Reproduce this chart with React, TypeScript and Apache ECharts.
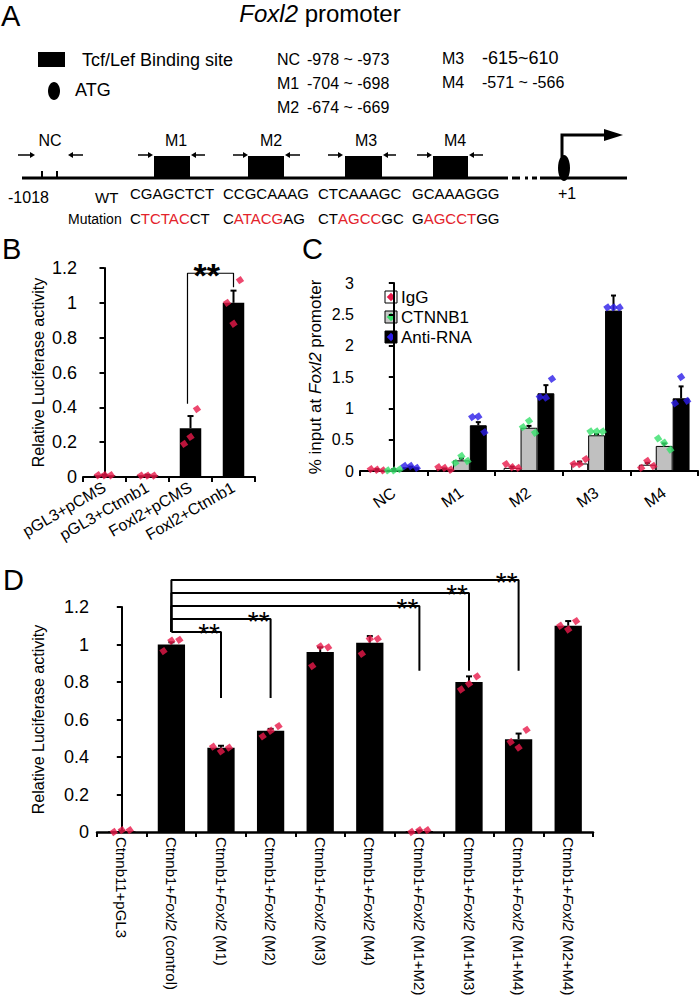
import React, { useEffect, useRef } from 'react';
import * as echarts from 'echarts';

const FONT = '"Liberation Sans", Arial, Helvetica, sans-serif';
const DOT_RED = '#e8194a';
const DOT_GREEN = '#36e06a';
const DOT_BLUE = '#2c1de8';
const SEQ_RED = '#e3232b';

// ---------- Panel A (text content) ----------
const siteNames = ['NC', 'M1', 'M2', 'M3', 'M4'];
const siteRanges = ['-978 ~ -973', '-704 ~ -698', '-674 ~ -669', '-615~610', '-571 ~ -566'];
const wtSeqs = ['CGAGCTCT', 'CCGCAAAG', 'CTCAAAGC', 'GCAAAGGG'];
const mutSeqs = [
  ['C', 'TCTAC', 'CT'],
  ['C', 'ATACG', 'AG'],
  ['CT', 'AGCC', 'GC'],
  ['G', 'AGCCT', 'GG'],
];

// ---------- Panel B ----------
const bCats = ['pGL3+pCMS', 'pGL3+Ctnnb1', 'Foxl2+pCMS', 'Foxl2+Ctnnb1'];
const bMeans = [0.01, 0.01, 0.28, 1.0];
const bErr = [0.003, 0.003, 0.07, 0.07];
const bDots = [
  [0.01, 0.01, 0.01],
  [0.008, 0.008, 0.008],
  [0.19, 0.23, 0.39],
  [1.0, 0.88, 1.13],
];
const bBracket = { from: 1.93, to: 3, fromBottom: 0.42, toBottom: 1.09, height: 1.17, star: 2.38 };

// ---------- Panel C ----------
const cCats = ['NC', 'M1', 'M2', 'M3', 'M4'];
const cSeriesNames = ['IgG', 'CTNNB1', 'Anti-RNA'];
const cIgG = [0.02, 0.03, 0.05, 0.12, 0.1];
const cCtnnb1 = [0.02, 0.17, 0.69, 0.57, 0.4];
const cAnti = [0.06, 0.73, 1.24, 2.56, 1.16];
const cIgGErr = [0.01, 0.01, 0.02, 0.03, 0.03];
const cCtnnb1Err = [0.01, 0.03, 0.03, 0.02, 0.04];
const cAntiErr = [0.01, 0.05, 0.13, 0.24, 0.19];
const cIgGDots = [[0.03, 0.02, 0.01], [0.06, 0.05, 0.02], [0.11, 0.06, 0.05], [0.11, 0.11, 0.19], [0.05, 0.16, 0.08]];
const cCtnnb1Dots = [[0.01, 0.01, 0.03], [0.13, 0.24, 0.16], [0.7, 0.8, 0.61], [0.63, 0.63, 0.63], [0.52, 0.45, 0.34]];
const cAntiDots = [[0.08, 0.08, 0.05], [0.86, 0.87, 0.62], [1.18, 1.17, 1.47], [2.61, 2.61, 2.61], [1.08, 1.5, 1.12]];

// ---------- Panel D ----------
const dCats = [
  'Ctnnb11+pGL3',
  'Ctnnb1+Foxl2 (control)',
  'Ctnnb1+Foxl2 (M1)',
  'Ctnnb1+Foxl2 (M2)',
  'Ctnnb1+Foxl2 (M3)',
  'Ctnnb1+Foxl2 (M4)',
  'Ctnnb1+Foxl2 (M1+M2)',
  'Ctnnb1+Foxl2 (M1+M3)',
  'Ctnnb1+Foxl2 (M1+M4)',
  'Ctnnb1+Foxl2 (M2+M4)',
];
const dMeans = [0.004, 1.0, 0.45, 0.54, 0.96, 1.01, 0.005, 0.8, 0.495, 1.1];
const dErr = [0.003, 0.012, 0.01, 0.01, 0.025, 0.035, 0.003, 0.03, 0.03, 0.025];
const dDots = [
  [0.0, 0.01, 0.01],
  [0.965, 1.02, 1.025],
  [0.455, 0.43, 0.45],
  [0.51, 0.54, 0.565],
  [0.885, 0.99, 0.985],
  [0.95, 1.03, 1.03],
  [0.0, 0.01, 0.01],
  [0.76, 0.79, 0.83],
  [0.48, 0.45, 0.545],
  [1.1, 1.08, 1.125],
];
const dBracketFrom = 1;
const dBracketBase = 1.067;
const dBracketTargets = [2, 3, 6, 7, 8];
const dBracketHeights = [1.067, 1.136, 1.205, 1.275, 1.344];
const dBracketBottoms = [0.715, 0.715, 0.86, 0.86, 0.86];

const BLACK = '#000';

function txt(x: number, y: number, text: string, size: number, extra: any = {}) {
  return {
    type: 'text',
    x,
    y,
    silent: true,
    style: {
      text,
      fill: BLACK,
      fontSize: size,
      fontFamily: FONT,
      align: 'left',
      verticalAlign: 'middle',
      textAlign: 'left',
      textVerticalAlign: 'middle',
      ...extra,
    },
  };
}

function arrow(x1: number, x2: number, y: number) {
  const dir = Math.sign(x2 - x1);
  const hx = x2 - dir * 5;
  return [
    { type: 'line', silent: true, shape: { x1, y1: y, x2: hx, y2: y }, style: { stroke: BLACK, lineWidth: 1.5 } },
    { type: 'polygon', silent: true, shape: { points: [[hx, y - 3], [x2, y], [hx, y + 3]] }, style: { fill: BLACK } },
  ];
}

function hline(x1: number, x2: number, y: number, w: number) {
  return { type: 'line', silent: true, shape: { x1, y1: y, x2, y2: y }, style: { stroke: BLACK, lineWidth: w } };
}

function buildGraphics() {
  const el: any[] = [];
  // Panel letters
  el.push(txt(1, 16, 'A', 29));
  el.push(txt(2, 249, 'B', 29));
  el.push(txt(302, 249, 'C', 29));
  el.push(txt(3, 580, 'D', 29));

  // Title
  el.push({
    type: 'text',
    x: 320,
    y: 13,
    silent: true,
    style: {
      text: '{i|Foxl2} promoter',
      fill: BLACK,
      fontSize: 24,
      fontFamily: FONT,
      align: 'center',
      textAlign: 'center',
      verticalAlign: 'middle',
      textVerticalAlign: 'middle',
      rich: { i: { fontStyle: 'italic', fontSize: 24, fontFamily: FONT, fill: BLACK } },
    },
  });

  // Legend
  el.push({ type: 'rect', silent: true, shape: { x: 38, y: 52, width: 27, height: 15 }, style: { fill: BLACK } });
  el.push(txt(82, 60, 'Tcf/Lef Binding site', 18));
  el.push({ type: 'ellipse', silent: true, shape: { cx: 54, cy: 91, rx: 6, ry: 9 }, style: { fill: BLACK } });
  el.push(txt(75, 90, 'ATG', 18));

  // Ranges
  const rangeRowsY = [59, 83, 107, 58, 82];
  siteNames.forEach((n, i) => {
    const left = i < 3;
    el.push(txt(left ? 277 : 442, rangeRowsY[i], n, 16));
    el.push(txt(left ? 307 : 482, rangeRowsY[i], siteRanges[i], i === 3 ? 18 : 16));
  });

  // Diagram
  const lineY = 178;
  const segs = [[22, 508], [512, 520], [525, 528], [532, 537], [540, 627]];
  segs.forEach(([a, b]) => el.push(hline(a, b, lineY, 3)));
  [42, 57].forEach((x) =>
    el.push({ type: 'line', silent: true, shape: { x1: x, y1: 171, x2: x, y2: lineY }, style: { stroke: BLACK, lineWidth: 2 } })
  );
  const boxes = [[154, 190], [248, 284], [345, 382], [433, 468]];
  boxes.forEach(([a, b]) =>
    el.push({ type: 'rect', silent: true, shape: { x: a, y: 156, width: b - a, height: lineY - 156 }, style: { fill: BLACK } })
  );
  const labelX = [50, 176, 271, 366, 455];
  siteNames.forEach((n, i) => el.push(txt(labelX[i], 140, n, 16, { align: 'center', textAlign: 'center' })));
  const arrows = [[18, 35, 83, 68], [138, 153, 205, 191], [233, 248, 300, 285], [328, 343, 396, 383], [417, 432, 483, 469]];
  arrows.forEach(([a, b, c, d]) => {
    el.push(...arrow(a, b, 155));
    el.push(...arrow(c, d, 155));
  });
  el.push({ type: 'ellipse', silent: true, shape: { cx: 564, cy: 168, rx: 6, ry: 13 }, style: { fill: BLACK } });
  el.push({ type: 'polyline', silent: true, shape: { points: [[562, 157], [562, 135], [606, 135]] }, style: { stroke: BLACK, lineWidth: 3, fill: 'none' } });
  el.push({ type: 'polygon', silent: true, shape: { points: [[604, 129], [623, 135], [604, 141]] }, style: { fill: BLACK } });

  el.push(txt(8, 197, '-1018', 16));
  el.push(txt(95, 197, 'WT', 15));
  el.push(txt(558, 193, '+1', 16));
  el.push(txt(68, 219, 'Mutation', 14));
  const seqX = [130, 223, 318, 412];
  wtSeqs.forEach((s, i) => el.push(txt(seqX[i], 193, s, 15)));
  mutSeqs.forEach((parts, i) => {
    el.push({
      type: 'text',
      x: seqX[i],
      y: 218,
      silent: true,
      style: {
        text: `{k|${parts[0]}}{r|${parts[1]}}{k|${parts[2]}}`,
        fontSize: 15,
        fontFamily: FONT,
        fill: BLACK,
        align: 'left',
        textAlign: 'left',
        verticalAlign: 'middle',
        textVerticalAlign: 'middle',
        rich: {
          k: { fill: BLACK, fontSize: 15, fontFamily: FONT },
          r: { fill: SEQ_RED, fontSize: 15, fontFamily: FONT },
        },
      },
    });
  });

  // Panel C legend
  const legFill = ['#ffffff', '#c8c8c8', BLACK];
  const legDot = [DOT_RED, DOT_GREEN, DOT_BLUE];
  const legY = [297, 317, 337];
  cSeriesNames.forEach((n, i) => {
    el.push({ type: 'rect', silent: true, shape: { x: 385, y: legY[i] - 6, width: 12, height: 12 }, style: { fill: legFill[i], stroke: BLACK, lineWidth: 1 } });
    el.push({ type: 'rect', silent: true, x: 391, y: legY[i], rotation: Math.PI / 4, shape: { x: -3, y: -3, width: 6, height: 6 }, style: { fill: legDot[i] } });
    el.push(txt(401, legY[i], n, 17));
  });
  return el;
}

const errRender = (capHalf: number) => (params: any, api: any) => {
  const x = api.value(0);
  const m = api.value(1);
  const e = api.value(2);
  const p0 = api.coord([x, m]);
  const p1 = api.coord([x, m + e]);
  return {
    type: 'group',
    children: [
      { type: 'line', shape: { x1: p0[0], y1: p0[1], x2: p1[0], y2: p1[1] }, style: { stroke: BLACK, lineWidth: 2 } },
      { type: 'line', shape: { x1: p1[0] - capHalf, y1: p1[1], x2: p1[0] + capHalf, y2: p1[1] }, style: { stroke: BLACK, lineWidth: 2 } },
    ],
  };
};

const dotPoints = (groups: number[][], offsets: number[], shift = 0) =>
  groups.flatMap((vals, i) => vals.map((v, k) => [i + shift + offsets[k], v]));

const axisLine = { show: true, lineStyle: { color: BLACK, width: 2 } };
const axisTick = { show: true, length: 5, lineStyle: { color: BLACK, width: 2 } };

function starSeries(xAxisIndex: number, yAxisIndex: number, pts: number[][], size: number, bold: boolean) {
  return {
    type: 'scatter',
    xAxisIndex,
    yAxisIndex,
    silent: true,
    clip: false,
    symbolSize: 0.5,
    itemStyle: { color: BLACK },
    z: 6,
    data: pts,
    label: {
      show: true,
      position: 'inside',
      formatter: '**',
      fontSize: size,
      fontWeight: bold ? 'bold' : 'normal',
      color: BLACK,
      opacity: 1,
      textBorderWidth: 0,
      textBorderColor: 'transparent',
      fontFamily: FONT,
      offset: [0, 2],
    },
  };
}

function dotSeries(xAxisIndex: number, yAxisIndex: number, data: number[][], color: string) {
  return {
    type: 'scatter',
    xAxisIndex,
    yAxisIndex,
    silent: true,
    clip: false,
    symbol: 'rect',
    symbolRotate: 35,
    symbolSize: 6,
    itemStyle: { color },
    z: 5,
    data,
  };
}

function errSeries(xAxisIndex: number, yAxisIndex: number, data: number[][], capHalf: number) {
  return {
    type: 'custom',
    xAxisIndex,
    yAxisIndex,
    silent: true,
    clip: false,
    z: 4,
    renderItem: errRender(capHalf),
    encode: { x: 0, y: 1 },
    data,
  };
}

function buildOption() {
  const bOff = [-0.15, 0, 0.15];
  const cOff = [-0.09, 0, 0.09];
  const dOff = [-0.16, 0, 0.16];
  const cShift = [-0.25, 0, 0.25];

  const series: any[] = [];
  // ----- B -----
  series.push({ type: 'bar', xAxisIndex: 0, yAxisIndex: 0, data: bMeans, barWidth: '50%', itemStyle: { color: BLACK }, silent: true });
  series.push(errSeries(1, 0, bMeans.map((m, i) => [i, m, bErr[i]]), 3));
  series.push(dotSeries(1, 0, dotPoints(bDots, bOff), DOT_RED));
  series.push({
    type: 'line',
    xAxisIndex: 1,
    yAxisIndex: 0,
    silent: true,
    clip: false,
    symbol: 'none',
    z: 6,
    lineStyle: { color: BLACK, width: 1.2 },
    data: [
      [bBracket.from, bBracket.fromBottom],
      [bBracket.from, bBracket.height],
      [bBracket.to, bBracket.height],
      [bBracket.to, bBracket.toBottom],
    ],
  });
  series.push(starSeries(1, 0, [[bBracket.star, bBracket.height]], 34, true));

  // ----- C -----
  const cFills = ['#ffffff', '#c0c0c0', BLACK];
  const cVals = [cIgG, cCtnnb1, cAnti];
  const cErrs = [cIgGErr, cCtnnb1Err, cAntiErr];
  const cDots = [cIgGDots, cCtnnb1Dots, cAntiDots];
  const cDotColors = [DOT_RED, DOT_GREEN, DOT_BLUE];
  cVals.forEach((vals, j) => {
    series.push({
      type: 'bar',
      name: cSeriesNames[j],
      xAxisIndex: 2,
      yAxisIndex: 1,
      data: vals,
      barGap: '0%',
      barCategoryGap: '25%',
      itemStyle: { color: cFills[j], borderColor: BLACK, borderWidth: 1 },
      silent: true,
    });
  });
  cVals.forEach((vals, j) => {
    series.push(errSeries(3, 1, vals.map((m, i) => [i + cShift[j], m, cErrs[j][i]]), 2.5));
  });
  cDots.forEach((g, j) => series.push(dotSeries(3, 1, dotPoints(g, cOff, cShift[j]), cDotColors[j])));

  // ----- D -----
  series.push({ type: 'bar', xAxisIndex: 4, yAxisIndex: 2, data: dMeans, barWidth: '55%', itemStyle: { color: BLACK }, silent: true });
  series.push(errSeries(5, 2, dMeans.map((m, i) => [i, m, dErr[i]]), 3));
  series.push(dotSeries(5, 2, dotPoints(dDots, dOff), DOT_RED));
  dBracketTargets.forEach((t, k) => {
    series.push({
      type: 'line',
      xAxisIndex: 5,
      yAxisIndex: 2,
      silent: true,
      clip: false,
      symbol: 'none',
      z: 6,
      lineStyle: { color: BLACK, width: 2 },
      data: [
        [dBracketFrom, dBracketBase],
        [dBracketFrom, dBracketHeights[k]],
        [t, dBracketHeights[k]],
        [t, dBracketBottoms[k]],
      ],
    });
  });
  series.push(starSeries(5, 2, dBracketTargets.map((t, k) => [t - 0.24, dBracketHeights[k]]), 28, false));

  const catLabel = (extra: any) => ({ color: BLACK, fontFamily: FONT, ...extra });

  return {
    animation: false,
    backgroundColor: '#ffffff',
    textStyle: { fontFamily: FONT },
    graphic: { elements: buildGraphics() },
    grid: [
      { left: 83, top: 268, width: 172, height: 209, outerBoundsMode: 'none', containLabel: false },
      { left: 360, top: 283, width: 338, height: 188, outerBoundsMode: 'none', containLabel: false },
      { left: 97, top: 607, width: 496, height: 225, outerBoundsMode: 'none', containLabel: false },
    ],
    xAxis: [
      {
        type: 'category', gridIndex: 0, data: bCats, axisLine, axisTick,
        axisLabel: catLabel({ rotate: 30, fontSize: 16, margin: 9 }),
      },
      { type: 'value', gridIndex: 0, min: -0.5, max: bCats.length - 0.5, show: false },
      {
        type: 'category', gridIndex: 1, data: cCats, axisLine, axisTick,
        axisLabel: catLabel({ rotate: 35, fontSize: 16, margin: 20 }),
      },
      { type: 'value', gridIndex: 1, min: -0.5, max: cCats.length - 0.5, show: false },
      {
        type: 'category', gridIndex: 2, data: dCats, axisLine: { show: true, lineStyle: { color: BLACK, width: 2.5 } }, axisTick,
        axisLabel: catLabel({
          rotate: -90,
          fontSize: 15,
          margin: 5,
          formatter: (v: string) => v.replace('Foxl2', '{i|Foxl2}'),
          rich: { i: { fontStyle: 'italic', fontSize: 15, color: BLACK, fontFamily: FONT } },
        }),
      },
      { type: 'value', gridIndex: 2, min: -0.5, max: dCats.length - 0.5, show: false },
    ],
    yAxis: [
      {
        type: 'value', gridIndex: 0, min: 0, max: 1.2, interval: 0.2, splitLine: { show: false }, axisLine, axisTick,
        axisLabel: { color: BLACK, fontSize: 18, fontFamily: FONT, margin: 6 },
        name: 'Relative Luciferase activity', nameLocation: 'middle', nameGap: 37,
        nameTextStyle: { color: BLACK, fontSize: 16, fontFamily: FONT },
      },
      {
        type: 'value', gridIndex: 1, min: 0, max: 3, interval: 0.5, splitLine: { show: false }, axisLine, axisTick,
        axisLabel: { color: BLACK, fontSize: 16, fontFamily: FONT, margin: 6 },
        name: '% input at {i|Foxl2} promoter', nameLocation: 'middle', nameGap: 36,
        nameTextStyle: {
          color: BLACK, fontSize: 17, fontFamily: FONT,
          rich: { i: { fontStyle: 'italic', fontSize: 17, color: BLACK, fontFamily: FONT } },
        },
      },
      {
        type: 'value', gridIndex: 2, min: 0, max: 1.2, interval: 0.2, splitLine: { show: false }, axisLine, axisTick,
        axisLabel: { color: BLACK, fontSize: 18, fontFamily: FONT, margin: 8 },
        name: 'Relative Luciferase activity', nameLocation: 'middle', nameGap: 51,
        nameTextStyle: { color: BLACK, fontSize: 16, fontFamily: FONT },
      },
    ],
    series,
  };
}

export default function App() {
  const ref = useRef<HTMLDivElement>(null);
  useEffect(() => {
    if (!ref.current) return;
    const chart = echarts.init(ref.current, null, { renderer: 'svg' });
    chart.setOption(buildOption() as any);
    return () => chart.dispose();
  }, []);
  return (
    <div
      ref={ref}
      style={{ position: 'absolute', left: 0, top: 0, width: 700, height: 1002, background: '#fff' }}
    />
  );
}
